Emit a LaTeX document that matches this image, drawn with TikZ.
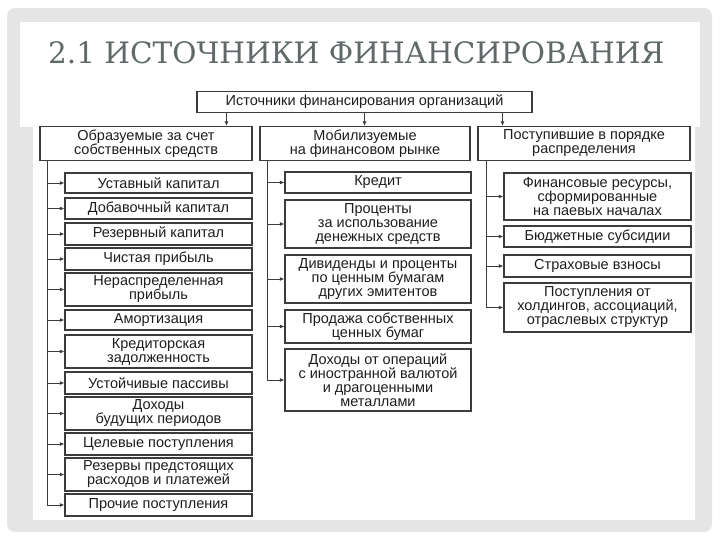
\documentclass[tikz,border=0pt]{standalone}
\usepackage{fontspec}
\setmainfont{DejaVu Serif}
\newfontfamily\boxsans{Liberation Sans}
\usetikzlibrary{arrows.meta,shadows}
\definecolor{titlegray}{RGB}{95,105,105}
\definecolor{boxline}{RGB}{60,60,60}
\definecolor{boxtext}{RGB}{30,30,30}

\begin{document}
\begin{tikzpicture}[x=1pt, y=-1pt,
    box/.style={draw=boxline, line width=1.1pt, fill=white, text=boxtext, align=center,
        inner sep=0pt, font=\boxsans\fontsize{14.5}{14}\selectfont,
        drop shadow={shadow xshift=1pt, shadow yshift=-1pt, opacity=0.5, fill=black!70}},
    catbox/.style={box, minimum height=34pt},
    lbox/.style={box, minimum width=187pt},
    mbox/.style={box, minimum width=186pt},
    rbox/.style={box, minimum width=187pt},
    arr/.style={draw=boxline, line width=0.9pt, -{Latex[length=4.5pt,width=4pt]}}]
    % Slide
    \useasboundingbox (0,0) rectangle (720,540);
    \fill[gray!20, rounded corners=8pt] (7,8) rectangle (712,532);
    \fill[white] (20,22) rectangle (700,127);
    \fill[white] (33,88) rectangle (695,520);

    % Title
    \node[anchor=base west, inner sep=0pt, text=titlegray,
        font=\rmfamily\fontsize{29.5}{29.5}\selectfont] (title) at (48,64) {2.1 ИСТОЧНИКИ ФИНАНСИРОВАНИЯ};

    % Top box and categories
    \node[box, minimum width=335pt, minimum height=21pt] (top) at (364.5,102) {Источники финансирования организаций};
    \node[catbox, minimum width=212pt] (own) at (146,143.5) {Образуемые за счет\\собственных средств};
    \node[catbox, minimum width=210pt] (market) at (365,143.5) {Мобилизуемые\\на финансовом рынке};
    \node[catbox, minimum width=212pt] (distr) at (584,143.5) {Поступившие в порядке\\распределения};

    \foreach \c/\dx in {own/-138, market/0, distr/138}
        \draw[arr] ([xshift=\dx pt]top.south) -- ([xshift=\dx pt]top.south |- \c.north);

    % Own funds
    \node[lbox, minimum height=20pt] (own1) at (158.5,183) {Уставный капитал};
    \node[lbox, minimum height=21pt] (own2) at (158.5,208.5) {Добавочный капитал};
    \node[lbox, minimum height=22pt] (own3) at (158.5,234) {Резервный капитал};
    \node[lbox, minimum height=22pt] (own4) at (158.5,259) {Чистая прибыль};
    \node[lbox, minimum height=33pt] (own5) at (158.5,289.5) {Нераспределенная\\прибыль};
    \node[lbox, minimum height=20pt] (own6) at (158.5,320) {Амортизация};
    \node[lbox, minimum height=33pt] (own7) at (158.5,351.5) {Кредиторская\\задолженность};
    \node[lbox, minimum height=22pt] (own8) at (158.5,383) {Устойчивые пассивы};
    \node[lbox, minimum height=33pt] (own9) at (158.5,413.5) {Доходы\\будущих периодов};
    \node[lbox, minimum height=22pt] (own10) at (158.5,444) {Целевые поступления};
    \node[lbox, minimum height=33pt] (own11) at (158.5,474.5) {Резервы предстоящих\\расходов и платежей};
    \node[lbox, minimum height=22pt] (own12) at (158.5,505) {Прочие поступления};

    % Financial market
    \node[mbox, minimum height=21pt] (market1) at (378,182.5) {Кредит};
    \node[mbox, minimum height=48pt] (market2) at (378,224) {Проценты\\за использование\\денежных средств};
    \node[mbox, minimum height=48pt] (market3) at (378,279) {Дивиденды и проценты\\по ценным бумагам\\других эмитентов};
    \node[mbox, minimum height=33pt] (market4) at (378,326.5) {Продажа собственных\\ценных бумаг};
    \node[mbox, minimum height=62pt] (market5) at (378,380) {Доходы от операций\\с иностранной валютой\\и драгоценными\\металлами};

    % Distribution
    \node[rbox, minimum height=47pt] (distr1) at (597.5,196.5) {Финансовые ресурсы,\\сформированные\\на паевых началах};
    \node[rbox, minimum height=21pt] (distr2) at (597.5,236.5) {Бюджетные субсидии};
    \node[rbox, minimum height=22pt] (distr3) at (597.5,266) {Страховые взносы};
    \node[rbox, minimum height=49pt] (distr4) at (597.5,307.5) {Поступления от\\холдингов, ассоциаций,\\отраслевых структур};

    % Connectors
    \coordinate (ownT) at ([xshift=8pt]own.south west);
    \coordinate (marketT) at ([xshift=8pt]market.south west);
    \coordinate (distrT) at ([xshift=9pt]distr.south west);
    \foreach \i in {1,...,12}
        \draw[arr] (ownT) |- (own\i.west);
    \foreach \i in {1,...,5}
        \draw[arr] (marketT) |- (market\i.west);
    \foreach \i in {1,...,4}
        \draw[arr] (distrT) |- (distr\i.west);
\end{tikzpicture}
\end{document}
